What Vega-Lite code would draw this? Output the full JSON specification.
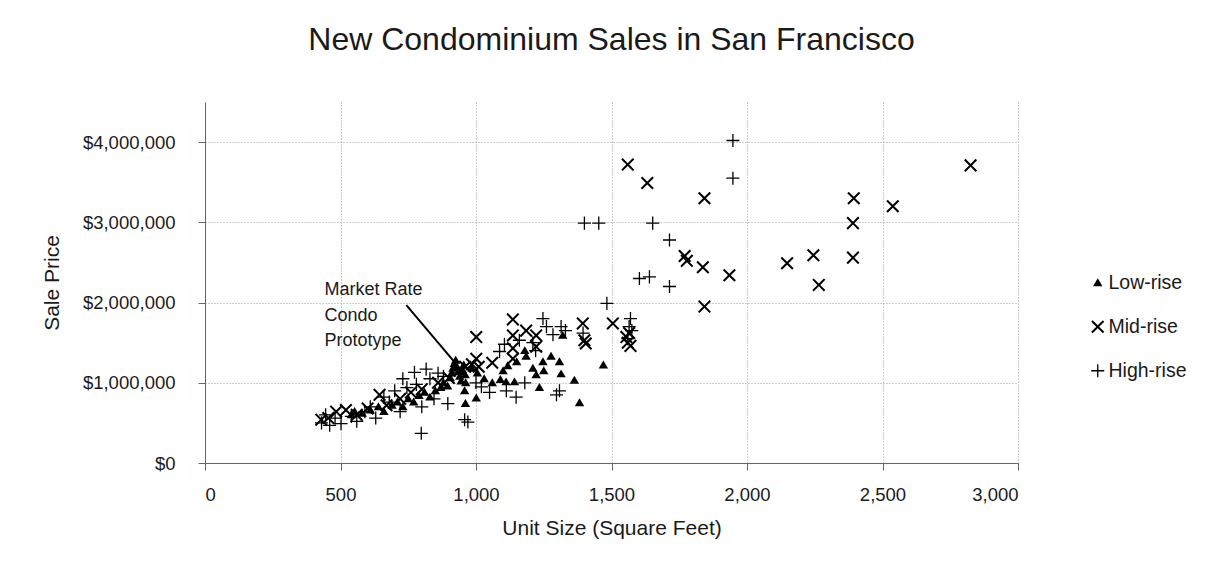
{
  "$schema": "https://vega.github.io/schema/vega-lite/v6.json",
  "autosize": {"type": "none"},
  "width": 813,
  "height": 361,
  "padding": {"left": 205, "top": 102, "right": 191, "bottom": 112},
  "background": "white",
  "title": {"text": "New Condominium Sales in San Francisco", "fontSize": 32, "font": "Liberation Sans", "fontWeight": "normal", "color": "#1a1a1a", "offset": 45, "anchor": "middle"},
  "config": {
    "view": {"stroke": null},
    "font": "Liberation Sans",
    "axis": {"labelFont": "Liberation Sans", "labelFontSize": 18.5, "labelColor": "#1a1a1a", "titleFont": "Liberation Sans", "titleFontSize": 21, "titleFontWeight": "normal", "titleColor": "#1a1a1a", "gridColor": "#9a9a9a", "gridDash": [1, 2], "gridWidth": 1, "domainColor": "#666", "tickColor": "#666", "tickSize": 7},
    "axisX": {"labelPadding": 15, "titlePadding": 14},
    "axisY": {"labelPadding": 23, "titlePadding": 20}
  },
  "datasets": {
    "sales": [
      {"size":540,"price":600000,"type":"Low-rise"},{"size":552,"price":640000,"type":"Low-rise"},{"size":580,"price":620000,"type":"Low-rise"},{"size":610,"price":660000,"type":"Low-rise"},{"size":640,"price":700000,"type":"Low-rise"},{"size":660,"price":640000,"type":"Low-rise"},{"size":690,"price":720000,"type":"Low-rise"},{"size":710,"price":760000,"type":"Low-rise"},{"size":730,"price":700000,"type":"Low-rise"},{"size":750,"price":800000,"type":"Low-rise"},{"size":770,"price":760000,"type":"Low-rise"},{"size":790,"price":840000,"type":"Low-rise"},{"size":810,"price":880000,"type":"Low-rise"},{"size":830,"price":820000,"type":"Low-rise"},{"size":850,"price":900000,"type":"Low-rise"},{"size":870,"price":940000,"type":"Low-rise"},{"size":880,"price":1000000,"type":"Low-rise"},{"size":895,"price":960000,"type":"Low-rise"},{"size":905,"price":1060000,"type":"Low-rise"},{"size":910,"price":1120000,"type":"Low-rise"},{"size":915,"price":1180000,"type":"Low-rise"},{"size":920,"price":1240000,"type":"Low-rise"},{"size":925,"price":1280000,"type":"Low-rise"},{"size":930,"price":1200000,"type":"Low-rise"},{"size":935,"price":1140000,"type":"Low-rise"},{"size":940,"price":1080000,"type":"Low-rise"},{"size":945,"price":1020000,"type":"Low-rise"},{"size":950,"price":1160000,"type":"Low-rise"},{"size":955,"price":1220000,"type":"Low-rise"},{"size":960,"price":1100000,"type":"Low-rise"},{"size":962,"price":1000000,"type":"Low-rise"},{"size":958,"price":900000,"type":"Low-rise"},{"size":961,"price":740000,"type":"Low-rise"},{"size":1001,"price":810000,"type":"Low-rise"},{"size":985,"price":1180000,"type":"Low-rise"},{"size":1005,"price":1120000,"type":"Low-rise"},{"size":1030,"price":1050000,"type":"Low-rise"},{"size":1060,"price":1000000,"type":"Low-rise"},{"size":1090,"price":1040000,"type":"Low-rise"},{"size":1111,"price":1010000,"type":"Low-rise"},{"size":1142,"price":1010000,"type":"Low-rise"},{"size":1117,"price":1210000,"type":"Low-rise"},{"size":1150,"price":1260000,"type":"Low-rise"},{"size":1185,"price":1330000,"type":"Low-rise"},{"size":1210,"price":1180000,"type":"Low-rise"},{"size":1222,"price":1100000,"type":"Low-rise"},{"size":1234,"price":940000,"type":"Low-rise"},{"size":1247,"price":1260000,"type":"Low-rise"},{"size":1277,"price":1330000,"type":"Low-rise"},{"size":1308,"price":1260000,"type":"Low-rise"},{"size":1314,"price":1110000,"type":"Low-rise"},{"size":1320,"price":1590000,"type":"Low-rise"},{"size":1363,"price":1030000,"type":"Low-rise"},{"size":1382,"price":750000,"type":"Low-rise"},{"size":1470,"price":1220000,"type":"Low-rise"},{"size":1180,"price":1400000,"type":"Low-rise"},{"size":1100,"price":1150000,"type":"Low-rise"},{"size":1250,"price":1150000,"type":"Low-rise"},
      {"size":429,"price":540000,"type":"Mid-rise"},{"size":455,"price":560000,"type":"Mid-rise"},{"size":484,"price":640000,"type":"Mid-rise"},{"size":520,"price":660000,"type":"Mid-rise"},{"size":560,"price":600000,"type":"Mid-rise"},{"size":600,"price":680000,"type":"Mid-rise"},{"size":644,"price":850000,"type":"Mid-rise"},{"size":670,"price":720000,"type":"Mid-rise"},{"size":720,"price":800000,"type":"Mid-rise"},{"size":760,"price":880000,"type":"Mid-rise"},{"size":800,"price":920000,"type":"Mid-rise"},{"size":860,"price":1000000,"type":"Mid-rise"},{"size":900,"price":1060000,"type":"Mid-rise"},{"size":940,"price":1150000,"type":"Mid-rise"},{"size":960,"price":1200000,"type":"Mid-rise"},{"size":985,"price":1230000,"type":"Mid-rise"},{"size":1001,"price":1300000,"type":"Mid-rise"},{"size":1001,"price":1570000,"type":"Mid-rise"},{"size":1010,"price":1200000,"type":"Mid-rise"},{"size":1060,"price":1250000,"type":"Mid-rise"},{"size":1136,"price":1300000,"type":"Mid-rise"},{"size":1136,"price":1430000,"type":"Mid-rise"},{"size":1136,"price":1590000,"type":"Mid-rise"},{"size":1136,"price":1790000,"type":"Mid-rise"},{"size":1185,"price":1650000,"type":"Mid-rise"},{"size":1222,"price":1590000,"type":"Mid-rise"},{"size":1222,"price":1450000,"type":"Mid-rise"},{"size":1394,"price":1740000,"type":"Mid-rise"},{"size":1400,"price":1530000,"type":"Mid-rise"},{"size":1405,"price":1490000,"type":"Mid-rise"},{"size":1505,"price":1740000,"type":"Mid-rise"},{"size":1555,"price":1570000,"type":"Mid-rise"},{"size":1560,"price":1500000,"type":"Mid-rise"},{"size":1565,"price":1620000,"type":"Mid-rise"},{"size":1570,"price":1460000,"type":"Mid-rise"},{"size":1560,"price":3720000,"type":"Mid-rise"},{"size":1632,"price":3490000,"type":"Mid-rise"},{"size":1770,"price":2580000,"type":"Mid-rise"},{"size":1778,"price":2520000,"type":"Mid-rise"},{"size":1837,"price":2440000,"type":"Mid-rise"},{"size":1843,"price":3300000,"type":"Mid-rise"},{"size":1843,"price":1950000,"type":"Mid-rise"},{"size":1935,"price":2340000,"type":"Mid-rise"},{"size":2148,"price":2490000,"type":"Mid-rise"},{"size":2245,"price":2590000,"type":"Mid-rise"},{"size":2265,"price":2220000,"type":"Mid-rise"},{"size":2391,"price":2560000,"type":"Mid-rise"},{"size":2391,"price":2990000,"type":"Mid-rise"},{"size":2394,"price":3300000,"type":"Mid-rise"},{"size":2538,"price":3200000,"type":"Mid-rise"},{"size":2825,"price":3710000,"type":"Mid-rise"},
      {"size":430,"price":500000,"type":"High-rise"},{"size":445,"price":600000,"type":"High-rise"},{"size":460,"price":470000,"type":"High-rise"},{"size":480,"price":560000,"type":"High-rise"},{"size":502,"price":490000,"type":"High-rise"},{"size":540,"price":580000,"type":"High-rise"},{"size":560,"price":520000,"type":"High-rise"},{"size":590,"price":640000,"type":"High-rise"},{"size":610,"price":700000,"type":"High-rise"},{"size":630,"price":560000,"type":"High-rise"},{"size":660,"price":820000,"type":"High-rise"},{"size":680,"price":760000,"type":"High-rise"},{"size":700,"price":900000,"type":"High-rise"},{"size":720,"price":640000,"type":"High-rise"},{"size":730,"price":1050000,"type":"High-rise"},{"size":745,"price":940000,"type":"High-rise"},{"size":773,"price":1130000,"type":"High-rise"},{"size":780,"price":980000,"type":"High-rise"},{"size":798,"price":370000,"type":"High-rise"},{"size":800,"price":700000,"type":"High-rise"},{"size":816,"price":1170000,"type":"High-rise"},{"size":830,"price":1050000,"type":"High-rise"},{"size":845,"price":800000,"type":"High-rise"},{"size":860,"price":1120000,"type":"High-rise"},{"size":880,"price":1080000,"type":"High-rise"},{"size":896,"price":740000,"type":"High-rise"},{"size":958,"price":540000,"type":"High-rise"},{"size":970,"price":510000,"type":"High-rise"},{"size":1000,"price":1000000,"type":"High-rise"},{"size":1020,"price":950000,"type":"High-rise"},{"size":1050,"price":880000,"type":"High-rise"},{"size":1087,"price":1390000,"type":"High-rise"},{"size":1105,"price":1480000,"type":"High-rise"},{"size":1112,"price":900000,"type":"High-rise"},{"size":1148,"price":820000,"type":"High-rise"},{"size":1160,"price":1530000,"type":"High-rise"},{"size":1180,"price":1000000,"type":"High-rise"},{"size":1210,"price":1500000,"type":"High-rise"},{"size":1220,"price":1400000,"type":"High-rise"},{"size":1247,"price":1800000,"type":"High-rise"},{"size":1260,"price":1700000,"type":"High-rise"},{"size":1284,"price":1600000,"type":"High-rise"},{"size":1297,"price":850000,"type":"High-rise"},{"size":1308,"price":900000,"type":"High-rise"},{"size":1314,"price":1700000,"type":"High-rise"},{"size":1330,"price":1650000,"type":"High-rise"},{"size":1395,"price":1620000,"type":"High-rise"},{"size":1400,"price":2990000,"type":"High-rise"},{"size":1453,"price":2990000,"type":"High-rise"},{"size":1483,"price":1990000,"type":"High-rise"},{"size":1560,"price":1550000,"type":"High-rise"},{"size":1565,"price":1700000,"type":"High-rise"},{"size":1570,"price":1800000,"type":"High-rise"},{"size":1575,"price":1650000,"type":"High-rise"},{"size":1603,"price":2300000,"type":"High-rise"},{"size":1640,"price":2320000,"type":"High-rise"},{"size":1652,"price":2990000,"type":"High-rise"},{"size":1714,"price":2780000,"type":"High-rise"},{"size":1714,"price":2200000,"type":"High-rise"},{"size":1948,"price":3550000,"type":"High-rise"},{"size":1948,"price":4020000,"type":"High-rise"}
    ],
    "note": [
      {"x1": 743, "y1": 1967000, "x2": 920, "y2": 1260000, "tx": 441, "ty": 2092000, "label": "Market Rate\nCondo\nPrototype"}
    ]
  },
  "layer": [
    {
      "data": {"name": "sales"},
      "mark": {"type": "point", "filled": true, "color": "black", "fill": "black", "strokeWidth": 0, "opacity": 1, "fillOpacity": 1, "size": 170},
      "encoding": {
        "x": {"field": "size", "type": "quantitative", "scale": {"domain": [0, 3000], "nice": false, "zero": false}, "axis": {"values": [0, 500, 1000, 1500, 2000, 2500, 3000], "format": ",.0f", "title": "Unit Size (Square Feet)"}},
        "y": {"field": "price", "type": "quantitative", "scale": {"domain": [0, 4500000], "nice": false}, "axis": {"values": [0, 1000000, 2000000, 3000000, 4000000], "format": "$,.0f", "title": "Sale Price"}},
        "shape": {
          "field": "type", "type": "nominal",
          "scale": {"domain": ["Low-rise", "Mid-rise", "High-rise"], "range": [
            "M0,-0.7L0.72,0.52L-0.72,0.52Z",
            "M0,-0.22L0.78,-1L1,-0.78L0.22,0L1,0.78L0.78,1L0,0.22L-0.78,1L-1,0.78L-0.22,0L-1,-0.78L-0.78,-1Z",
            "M-1,-0.1L-0.1,-0.1L-0.1,-1L0.1,-1L0.1,-0.1L1,-0.1L1,0.1L0.1,0.1L0.1,1L-0.1,1L-0.1,0.1L-1,0.1Z"
          ]},
          "legend": {"orient": "none", "legendX": 883, "legendY": 171, "title": null, "labelFontSize": 19.5, "labelFont": "Liberation Sans", "labelColor": "#1a1a1a", "symbolSize": 170, "rowPadding": 23, "symbolStrokeWidth": 0, "symbolFillColor": "black", "symbolOpacity": 1, "padding": 0, "labelOffset": 1}
        }
      }
    },
    {
      "data": {"name": "note"},
      "mark": {"type": "rule", "strokeWidth": 2, "color": "black"},
      "encoding": {"x": {"field": "x1", "type": "quantitative"}, "y": {"field": "y1", "type": "quantitative"}, "x2": {"field": "x2"}, "y2": {"field": "y2"}}
    },
    {
      "data": {"name": "note"},
      "mark": {"type": "text", "align": "left", "baseline": "alphabetic", "fontSize": 18, "lineHeight": 25.5, "color": "#1a1a1a", "font": "Liberation Sans", "lineBreak": "\n"},
      "encoding": {"x": {"field": "tx", "type": "quantitative"}, "y": {"field": "ty", "type": "quantitative"}, "text": {"field": "label"}}
    }
  ]
}
